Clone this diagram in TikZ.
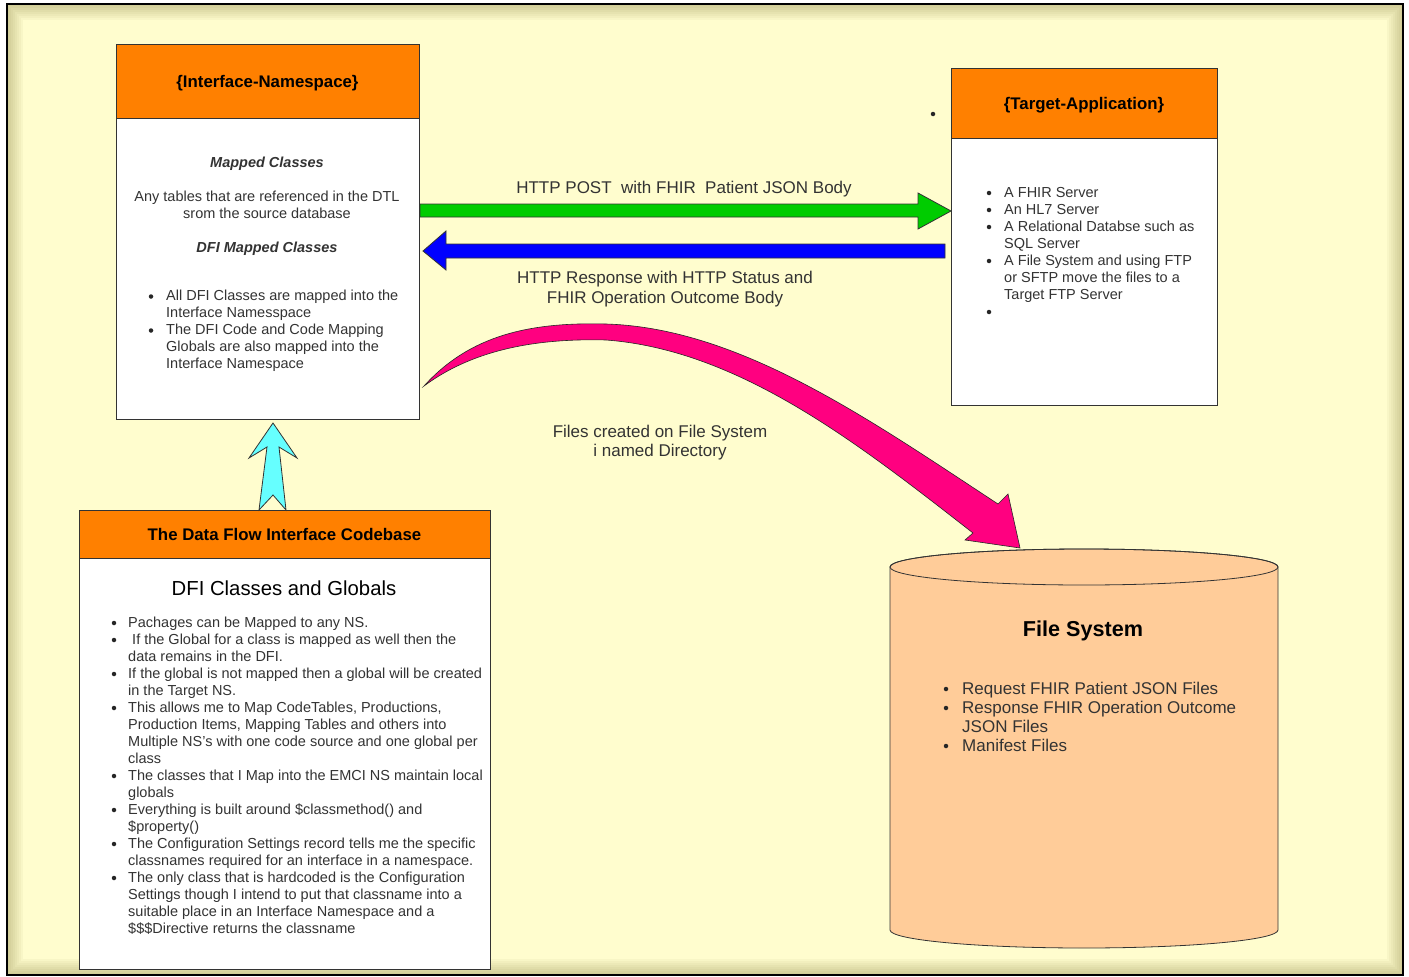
\documentclass[tikz,border=0pt]{standalone}
\usepackage{fontspec}
\setmainfont{Liberation Sans}
\usetikzlibrary{positioning}

\definecolor{cream}{HTML}{FFFDCE}
\definecolor{hdrorange}{HTML}{FF8000}
\definecolor{peach}{HTML}{FFCC99}
\definecolor{postgreen}{HTML}{00CC00}
\definecolor{respblue}{HTML}{0000FF}
\definecolor{filepink}{HTML}{FF0080}
\definecolor{upcyan}{HTML}{66FFFF}
\definecolor{textgray}{HTML}{333333}

\newcommand\bodyfont{\fontsize{14.5}{17}\selectfont}
\newcommand\lblfont{\fontsize{17}{20}\selectfont}
\newcommand\hdrfont{\fontsize{16.8}{20}\selectfont\bfseries}

\begin{document}
\begin{tikzpicture}[x=1pt, y=-1pt,
    hdr/.style={draw=black!80, fill=hdrorange, line width=0.8pt, inner sep=0pt, outer sep=0pt,
        font=\hdrfont, text height=17pt, text depth=3.5pt},
    bodybox/.style={draw=black!80, fill=white, line width=0.8pt, inner sep=0pt, outer sep=0pt},
    txt/.style={inner sep=0pt, anchor=base west, text=textgray, font=\bodyfont},
    ctxt/.style={txt, anchor=base},
    lbl/.style={inner sep=0pt, anchor=base, text=textgray, font=\lblfont},
    bul/.style={circle, fill=black!85, inner sep=0pt, minimum size=4.5pt},
    blockarrow/.style={draw=black!80, line width=0.8pt, line join=miter}]

    \useasboundingbox (0,0) rectangle (1409,977);
    \fill[white] (0,0) rectangle (1409,977);

    % frame with inner shadow
    \fill[cream] (7,4) rectangle (1403,975);
    \begin{scope}
        \clip (7,4) rectangle (1403,975);
        \foreach \w in {4,8,...,32}
            \draw[olive!70!black, opacity=0.045, line width=\w pt] (7,4) rectangle (1403,975);
    \end{scope}
    \draw[black, line width=1.2pt] (7,4) rectangle (1403,975);

    % boxes
    \node[hdr, minimum width=303pt, minimum height=74pt, anchor=north west] (nshead) at (116,44) {\{Interface-Namespace\}};
    \node[bodybox, minimum width=303pt, minimum height=301pt, anchor=north] (nsbody) at (nshead.south) {};

    \node[hdr, minimum width=266pt, minimum height=70pt, anchor=north west] (tahead) at (951,68) {\{Target-Application\}};
    \node[bodybox, minimum width=266pt, minimum height=267pt, anchor=north] (tabody) at (tahead.south) {};

    \node[hdr, minimum width=411pt, minimum height=48pt, anchor=north west] (dfihead) at (79,510) {The Data Flow Interface Codebase};
    \node[bodybox, minimum width=411pt, minimum height=411pt, anchor=north] (dfibody) at (dfihead.south) {};

    % file system cylinder
    \draw[fill=peach, draw=black!80, line width=0.8pt] (890,567) -- (890,930)
        arc[start angle=180, end angle=0, x radius=194, y radius=18] -- (1278,567)
        arc[start angle=0, end angle=-180, x radius=194, y radius=18] -- cycle;
    \draw[draw=black!80, line width=0.8pt] (1084,567) ellipse[x radius=194, y radius=18];

    % block arrows
    \draw[blockarrow, fill=postgreen] (420,204) -- (918,204) -- (918,193) -- (951,211)
        -- (918,229) -- (918,217) -- (420,217) -- cycle;
    \draw[blockarrow, fill=respblue] (945,244) -- (446,244) -- (446,231) -- (423,251)
        -- (446,270) -- (446,258) -- (945,258) -- cycle;
    \draw[blockarrow, fill=upcyan] (273,423) -- (297,458) -- (279,447) -- (286,510)
        -- (273,495) -- (259,510) -- (267,447) -- (249,458) -- cycle;
    \draw[draw=black!85, line width=0.6pt, fill=filepink] (424,386)
        .. controls (470,335) and (530,322) .. (606,324)
        .. controls (740,328) and (870,420) .. (998,504)
        -- (1008,494) -- (1020,548) -- (965,540) -- (973,533)
        .. controls (860,445) and (740,350) .. (606,340)
        .. controls (530,338) and (470,352) .. (424,386) -- cycle;

    % interface namespace text
    \node[ctxt, font=\bodyfont\bfseries\itshape] (mapped) at (267,167) {Mapped Classes};
    \node[ctxt] (anytab) at (267,201) {Any tables that are referenced in the DTL};
    \node[ctxt] (srom) at (267,218) {srom the source database};
    \node[ctxt, font=\bodyfont\bfseries\itshape] (dfimapped) at (267,252) {DFI Mapped Classes};
    \foreach[count=\i] \t in {All DFI Classes are mapped into the, Interface Namesspace,
            The DFI Code and Code Mapping, Globals are also mapped into the, Interface Namespace}
        \node[txt] (ns\i) at (166, 300+17*\i-17) {\t};
    \foreach \i in {1,3}
        \node[bul] (nsb\i) at (151, 296.5+17*\i-17) {};

    % target application text
    \foreach[count=\i] \t in {A FHIR Server, An HL7 Server, A Relational Databse such as,
            SQL Server, A File System and using FTP, or SFTP move the files to a, Target FTP Server}
        \node[txt] (ta\i) at (1004, 197+17*\i-17) {\t};
    \foreach \i in {1,2,3,5,8}
        \node[bul] (tab\i) at (989, 193+17*\i-17) {};
    \node[bul] (stray) at (933,114) {};

    % arrow labels
    \node[lbl] (postlbl) at (684,193) {HTTP POST\ \ with FHIR\ \ Patient JSON Body};
    \node[lbl] (resp1) at (665,283) {HTTP Response with HTTP Status and};
    \node[lbl] (resp2) at (665,303) {FHIR Operation Outcome Body};
    \node[lbl] (files1) at (660,437) {Files created on File System};
    \node[lbl] (files2) at (660,456) {i named Directory};

    % dfi codebase text
    \node[inner sep=0pt, anchor=base, font=\fontsize{20.3}{24}\selectfont] (dfititle) at (284,595) {DFI Classes and Globals};
    \foreach[count=\i] \t in {Pachages can be Mapped to any NS.,
            \ If the Global for a class is mapped as well then the, data remains in the DFI.,
            If the global is not mapped then a global will be created, in the Target NS.,
            {This allows me to Map CodeTables, Productions,},
            {Production Items, Mapping Tables and others into},
            Multiple NS's with one code source and one global per, class,
            The classes that I Map into the EMCI NS maintain local, globals,
            Everything is built around \$classmethod() and, \$property(),
            The Configuration Settings record tells me the specific,
            classnames required for an interface in a namespace.,
            The only class that is hardcoded is the Configuration,
            Settings though I intend to put that classname into a,
            suitable place in an Interface Namespace and a,
            \$\$\$Directive returns the classname}
        \node[txt] (dfi\i) at (128, 627+17*\i-17) {\t};
    \foreach \i in {1,2,4,6,10,12,14,16}
        \node[bul] (dfib\i) at (114, 623+17*\i-17) {};

    % file system text
    \node[inner sep=0pt, anchor=base, font=\fontsize{21.6}{26}\selectfont\bfseries] (fstitle) at (1083,636) {File System};
    \foreach[count=\i] \t in {Request FHIR Patient JSON Files, Response FHIR Operation Outcome,
            JSON Files, Manifest Files}
        \node[lbl, anchor=base west] (fs\i) at (962, 694+19*\i-19) {\t};
    \foreach \i in {1,2,4}
        \node[bul] (fsb\i) at (946, 689+19*\i-19) {};
\end{tikzpicture}
\end{document}
